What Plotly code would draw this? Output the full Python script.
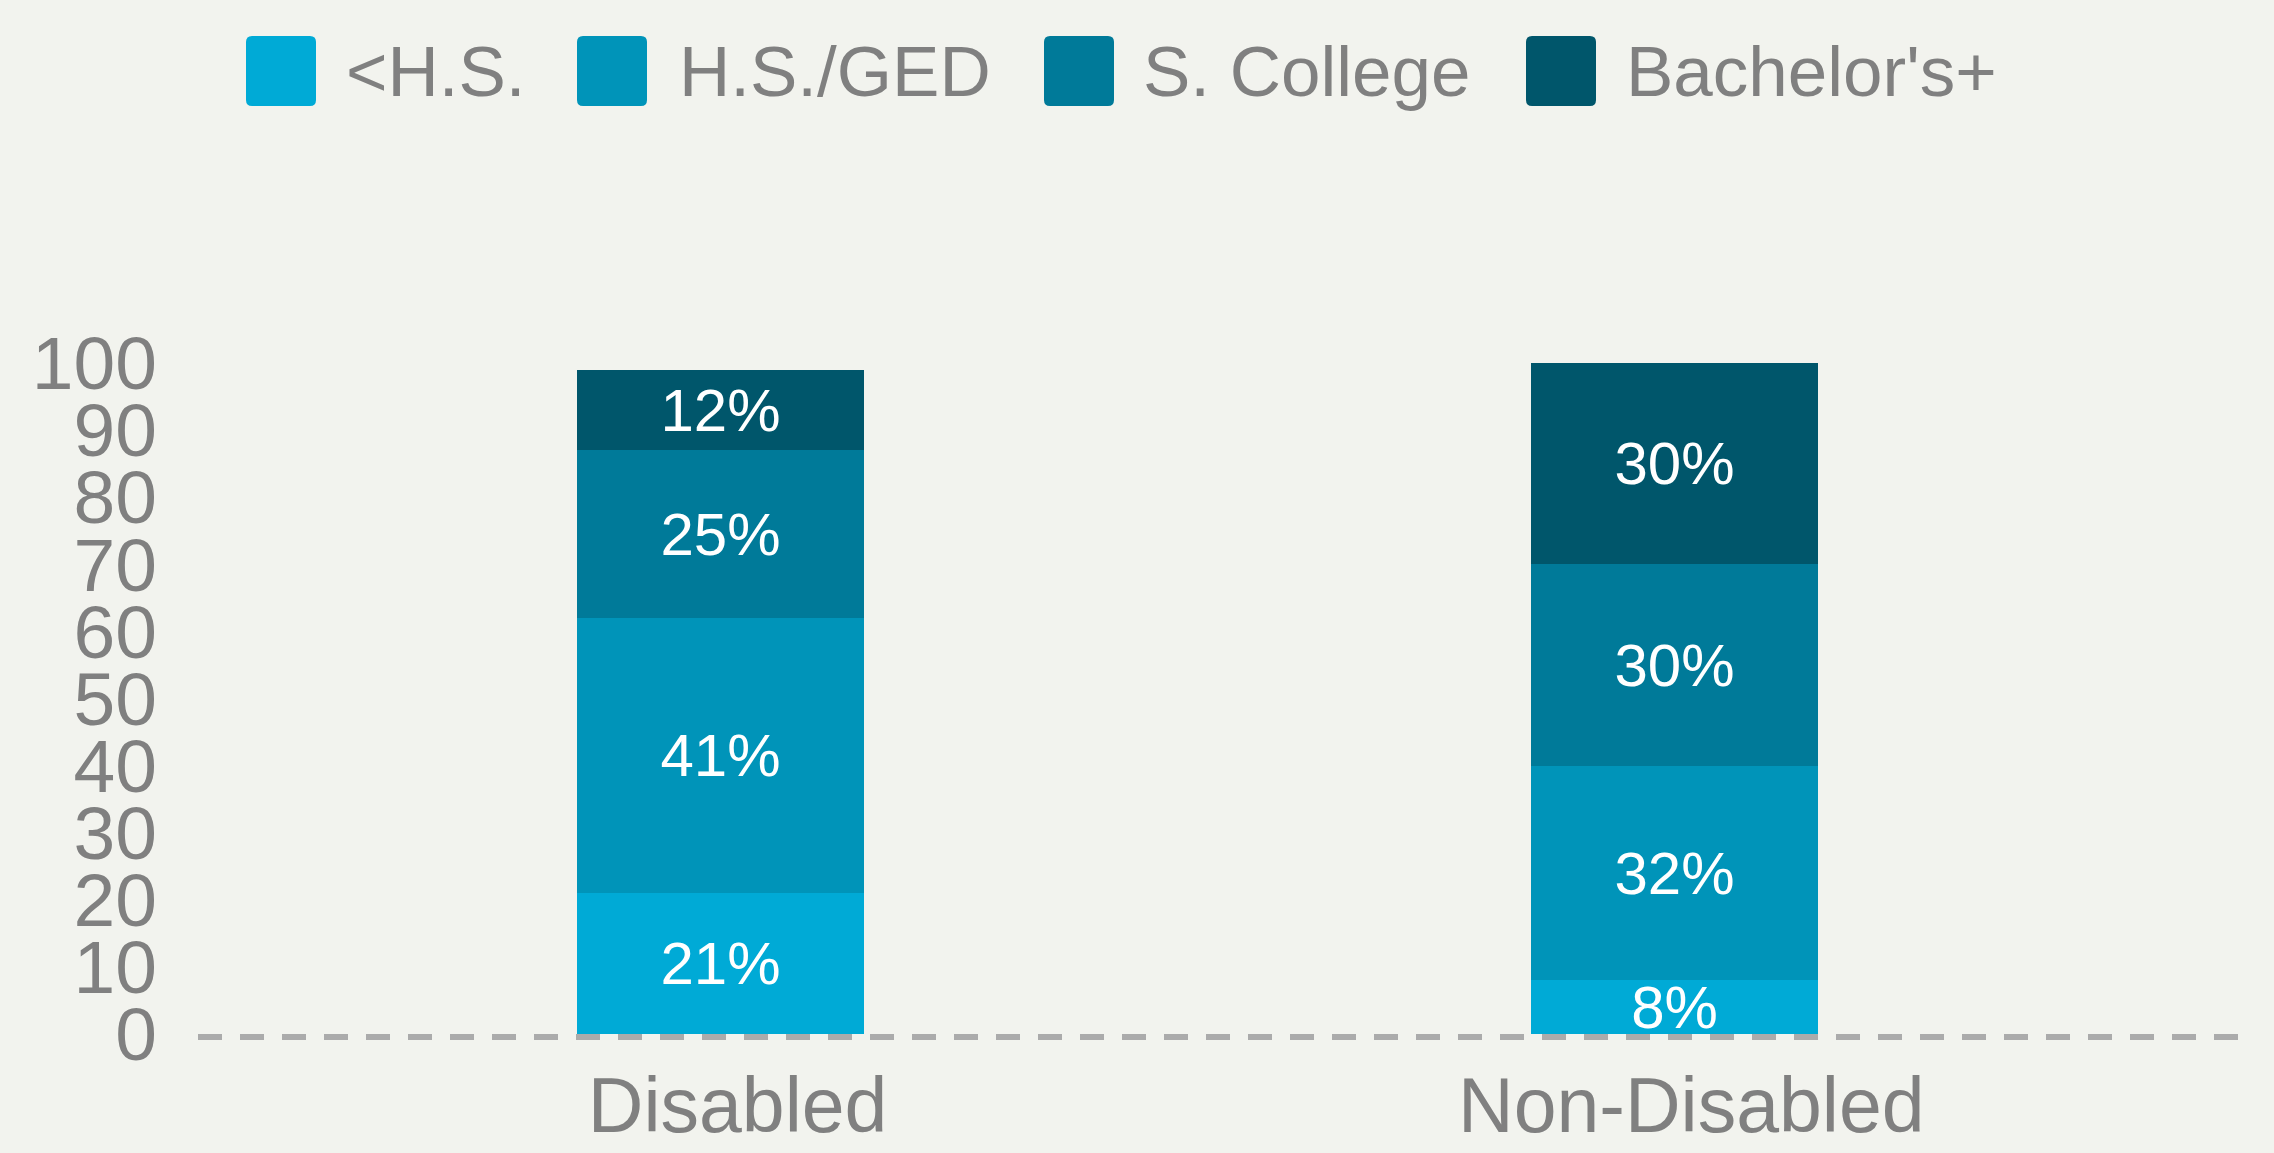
import plotly.graph_objects as go

# ---- data ----
groups = ["Disabled", "Non-Disabled"]
levels = ["<H.S.", "H.S./GED", "S. College", "Bachelor's+"]
lt_hs = [21, 8]
hs_ged = [41, 32]
some_college = [25, 30]
bachelors = [12, 30]
y_ticks = [0, 10, 20, 30, 40, 50, 60, 70, 80, 90, 100]

series = [lt_hs, hs_ged, some_college, bachelors]
colors = ["#00AAD6", "#0094B9", "#007A99", "#00566B"]

W, H = 2274, 1153
L, R, T, B = 198, 36, 363, 109
pw, ph = W - L - R, H - T - B
y_top_px, y_zero_px = 363, 1034
per_unit = (y_zero_px - y_top_px) / 100.0
y_low = -(H - B - y_zero_px) / per_unit

fig = go.Figure()
for name, vals, col in zip(levels, series, colors):
    fig.add_trace(go.Bar(
        x=groups, y=vals, name=name,
        marker=dict(color=col, line=dict(width=0)),
        text=[f"{v}%" for v in vals],
        textposition="inside", insidetextanchor="middle",
        textangle=0, constraintext="none",
        textfont=dict(family="Liberation Sans, Arial, sans-serif", size=60, color="#FFFFFF"),
        width=0.301, showlegend=False, hoverinfo="skip",
    ))

shapes = []
annotations = []
# dashed baseline, just under the bars
shapes.append(dict(type="line", xref="paper", yref="y", x0=0, x1=1,
                   y0=-3 / per_unit, y1=-3 / per_unit,
                   line=dict(color="#ABABAB", width=6, dash="24px,18px"), layer="below"))

# custom legend (large boxes)
box_x = [246, 577, 1044, 1526]
txt_x = [344, 677, 1141, 1624]
box_w, box_h = 70, 70
leg_cy = 71
for name, col, bx, tx in zip(levels, colors, box_x, txt_x):
    cx = (bx + box_w / 2 - L) / pw
    cy = (H - B - leg_cy) / ph
    r = 6
    hw, hh = box_w / 2, box_h / 2
    path = (f"M{-hw + r},{-hh} L{hw - r},{-hh} Q{hw},{-hh} {hw},{-hh + r} "
            f"L{hw},{hh - r} Q{hw},{hh} {hw - r},{hh} L{-hw + r},{hh} "
            f"Q{-hw},{hh} {-hw},{hh - r} L{-hw},{-hh + r} Q{-hw},{-hh} {-hw + r},{-hh} Z")
    shapes.append(dict(type="path", xref="paper", yref="paper", xsizemode="pixel", ysizemode="pixel",
                       xanchor=cx, yanchor=cy, path=path, fillcolor=col, line=dict(width=0)))
    annotations.append(dict(xref="paper", yref="paper", x=(tx - L) / pw, y=cy,
                            xanchor="left", yanchor="middle", showarrow=False, text=name,
                            font=dict(family="Liberation Sans, Arial, sans-serif", size=71, color="#808080")))

fig.update_layout(
    width=W, height=H,
    margin=dict(l=L, r=R, t=T, b=B, pad=0, autoexpand=False),
    barmode="stack",
    paper_bgcolor="#F2F3EE", plot_bgcolor="rgba(0,0,0,0)",
    shapes=shapes, annotations=annotations,
    showlegend=False,
    bargap=0,
)
fig.update_xaxes(range=[-0.548, 1.591], showgrid=False, zeroline=False, showline=False,
                 automargin=False,
                 ticks="", ticklabelstandoff=10, ticklabelshift=17,
                 tickfont=dict(family="Liberation Sans, Arial, sans-serif", size=77, color="#808080"))
fig.update_yaxes(range=[y_low, 100], tickvals=y_ticks, showgrid=False, zeroline=False, showline=False,
                 automargin=False,
                 ticks="", ticklabelstandoff=40,
                 tickfont=dict(family="Liberation Sans, Arial, sans-serif", size=75, color="#808080"))

fig.write_html("out.html")
